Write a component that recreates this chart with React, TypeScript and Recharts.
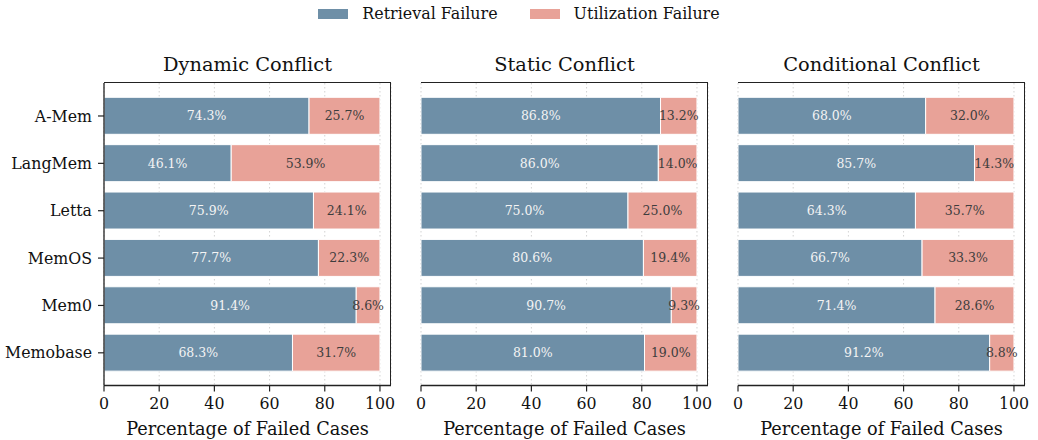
import { BarChart, Bar, XAxis, YAxis, CartesianGrid, LabelList } from 'recharts';

const systems = ['A-Mem', 'LangMem', 'Letta', 'MemOS', 'Mem0', 'Memobase'];

const dynamicRetrieval = [74.3, 46.1, 75.9, 77.7, 91.4, 68.3];
const dynamicUtilization = [25.7, 53.9, 24.1, 22.3, 8.6, 31.7];

const staticRetrieval = [86.8, 86.0, 75.0, 80.6, 90.7, 81.0];
const staticUtilization = [13.2, 14.0, 25.0, 19.4, 9.3, 19.0];

const conditionalRetrieval = [68.0, 85.7, 64.3, 66.7, 71.4, 91.2];
const conditionalUtilization = [32.0, 14.3, 35.7, 33.3, 28.6, 8.8];

const xTicks = [0, 20, 40, 60, 80, 100];

const BLUE = '#6e8fa7';
const PINK = '#e8a298';
const FONT = "'DejaVu Serif', serif";

const toRows = (ret: number[], util: number[]) =>
  systems.map((name, i) => ({ name, retrieval: ret[i], utilization: util[i] }));

const panels = [
  { title: 'Dynamic Conflict', rows: toRows(dynamicRetrieval, dynamicUtilization), plotLeft: 104 },
  { title: 'Static Conflict', rows: toRows(staticRetrieval, staticUtilization), plotLeft: 421 },
  { title: 'Conditional Conflict', rows: toRows(conditionalRetrieval, conditionalUtilization), plotLeft: 738 },
];

const PLOT_W = 287;
const PLOT_TOP = 83;
const PLOT_BOTTOM = 385.5;
const H = 440;

const fmt = (v: any) => `${Number(v).toFixed(1)}%`;

function Panel({ title, rows, plotLeft, showLabels }: any) {
  const yw = showLabels ? 96 : 0;
  const left = showLabels ? 0 : plotLeft - 30;
  const marginLeft = plotLeft - left - yw;
  const width = marginLeft + yw + PLOT_W + 9;
  return (
    <div style={{ position: 'absolute', left, top: 0, width, height: H }}>
      <div
        style={{
          position: 'absolute',
          left: plotLeft - left,
          width: PLOT_W,
          top: 53,
          textAlign: 'center',
          fontFamily: FONT,
          fontSize: 19.4,
          color: '#111',
        }}
      >
        {title}
      </div>
      <BarChart
        width={width}
        height={H}
        data={rows}
        layout="vertical"
        margin={{ top: PLOT_TOP, right: 9, bottom: 0, left: marginLeft }}
      >
        <XAxis
          type="number"
          domain={[0, 104]}
          ticks={xTicks}
          allowDataOverflow
          tickSize={6}
          tickMargin={6}
          height={H - PLOT_BOTTOM}
          axisLine={{ stroke: '#222', strokeWidth: 1.3 }}
          tickLine={{ stroke: '#222', strokeWidth: 1.2 }}
          tick={{ fill: '#111', fontSize: 15.8, fontFamily: FONT }}
          label={{
            value: 'Percentage of Failed Cases',
            position: 'insideBottom',
            offset: 5,
            fill: '#111',
            fontSize: 17.7,
            fontFamily: FONT,
          }}
        />
        <YAxis
          type="category"
          dataKey="name"
          width={yw}
          padding={{ top: 9.3, bottom: 9 }}
          tickSize={6}
          tickMargin={6}
          axisLine={{ stroke: '#222', strokeWidth: 1.3 }}
          tickLine={{ stroke: '#222', strokeWidth: 1.2 }}
          tick={{ fill: '#111', fontSize: 15.8, fontFamily: FONT }}
          tickFormatter={showLabels ? undefined : () => ''}
        />
        <Bar dataKey="retrieval" stackId="a" fill={BLUE} stroke="#fff" strokeWidth={1} barSize={37} isAnimationActive={false}>
          <LabelList dataKey="retrieval" position="center" formatter={fmt} fill="#f4f4f4" fontSize={12.5} fontFamily={FONT} />
        </Bar>
        <Bar dataKey="utilization" stackId="a" fill={PINK} stroke="#fff" strokeWidth={1} barSize={37} isAnimationActive={false}>
          <LabelList dataKey="utilization" position="center" formatter={fmt} fill="#3d3d3d" fontSize={12.5} fontFamily={FONT} />
        </Bar>
        <CartesianGrid vertical horizontal={false} stroke="#c4c4c4" strokeOpacity={0.75} strokeDasharray="1.5 2.5" />
      </BarChart>
      <div
        style={{
          position: 'absolute',
          left: plotLeft - left,
          top: PLOT_TOP - 0.65,
          width: PLOT_W,
          height: PLOT_BOTTOM - PLOT_TOP,
          boxSizing: 'border-box',
          borderTop: '1.3px solid #222',
          borderRight: '1.3px solid #222',
          pointerEvents: 'none',
        }}
      />
    </div>
  );
}

export default function App() {
  return (
    <div style={{ position: 'absolute', left: 0, top: 0, width: 1038, height: H, background: '#fff' }}>
      <div
        style={{
          position: 'absolute',
          top: 4,
          left: 0,
          width: 1038,
          display: 'flex',
          justifyContent: 'center',
          alignItems: 'center',
          fontFamily: FONT,
          fontSize: 15.9,
          color: '#111',
        }}
      >
        <span style={{ display: 'inline-block', width: 30, height: 10, background: BLUE, marginRight: 14 }} />
        <span style={{ marginRight: 32 }}>Retrieval Failure</span>
        <span style={{ display: 'inline-block', width: 30, height: 10, background: PINK, marginRight: 14 }} />
        <span>Utilization Failure</span>
      </div>
      {panels.map((p, i) => (
        <Panel key={p.title} {...p} showLabels={i === 0} />
      ))}
    </div>
  );
}
